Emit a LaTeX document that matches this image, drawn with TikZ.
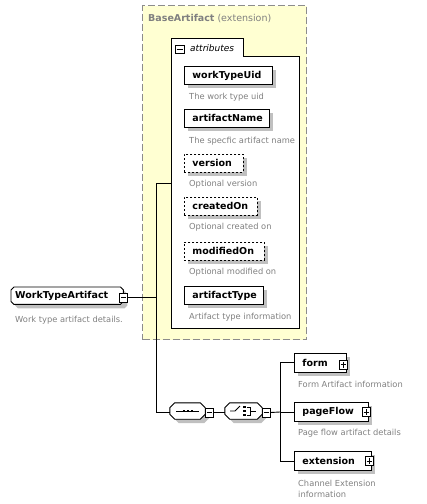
\documentclass[tikz,border=0pt]{standalone}
\usepackage{fontspec}
\setmainfont{DejaVu Sans}
\usetikzlibrary{calc,shadows}

\definecolor{yel}{HTML}{FFFFD2}
\definecolor{shd}{HTML}{C0C0C0}
\definecolor{desc}{HTML}{808080}
\definecolor{dashc}{HTML}{8C8C8C}

\tikzset{
  shd/.style={general shadow={fill=shd, shadow xshift=4pt, shadow yshift=-4pt}},
  elem/.style={draw=black, line width=0.9pt, fill=white, shd, anchor=north west,
    minimum height=18pt, inner xsep=8pt, inner ysep=0pt, align=left,
    font=\fontsize{9.5}{11}\selectfont\bfseries},
  optel/.style={elem, dash pattern=on 2pt off 2pt},
  desctext/.style={anchor=west, text=desc, font=\fontsize{8.3}{10}\selectfont, inner sep=0pt, align=left},
  pmbox/.style={draw=black, line width=0.8pt, fill=white, minimum width=8pt, minimum height=9pt, inner sep=0pt},
  minus/.style={pmbox, path picture={
      \draw[line width=0.8pt] ([xshift=1.5pt]path picture bounding box.west) -- ([xshift=-1.5pt]path picture bounding box.east);}},
  plus/.style={pmbox, path picture={
      \draw[line width=0.8pt] ([xshift=1.5pt]path picture bounding box.west) -- ([xshift=-1.5pt]path picture bounding box.east);
      \draw[line width=0.8pt] ([yshift=-1.5pt]path picture bounding box.north) -- ([yshift=1.5pt]path picture bounding box.south);}},
  octbox/.style={rectangle, inner sep=0pt},
  conn/.style={line width=0.9pt, black},
}
% octagon outline round a node: #1 name, #2 cut
\newcommand{\octpath}[2]{($(#1.north west)+(#2,0)$) -- ($(#1.north east)+(-#2,0)$) -- ($(#1.north east)+(0,#2)$)
  -- ($(#1.south east)+(0,-#2)$) -- ($(#1.south east)+(-#2,0)$) -- ($(#1.south west)+(#2,0)$)
  -- ($(#1.south west)+(0,-#2)$) -- ($(#1.north west)+(0,#2)$) -- cycle}
\newcommand{\octdraw}[2]{%
  \fill[shd, shift={(4,4)}] \octpath{#1}{#2};
  \draw[line width=0.9pt, fill=white] \octpath{#1}{#2};}

\begin{document}
\begin{tikzpicture}[x=1pt,y=-1pt]
\useasboundingbox (0,0) rectangle (427,504);

% extension base (yellow dashed)
\node[draw=dashc, fill=yel, line width=1pt, dash pattern=on 7pt off 3pt,
      minimum width=164pt, minimum height=334pt, inner sep=0pt, anchor=north west] (base) at (142,5) {};
\node[anchor=west, inner sep=0pt, text=desc, font=\fontsize{9.5}{11}\selectfont] (basetitle) at (148,19)
   {\textbf{BaseArtifact} (extension)};

% attributes box with tab
\draw[line width=0.9pt, fill=white] (171,38) -- (243,38) -- (243,56) -- (299,56) -- (299,328) -- (171,328) -- cycle;
\coordinate (attrW) at (171,183);
\node[minus, minimum width=9pt, minimum height=8pt] (attrm) at (179.5,49) {};
\node[anchor=west, inner sep=0pt, font=\fontsize{9}{11}\selectfont\itshape] (attrlbl) at (190,48) {attributes};

% attributes
\node[elem, text width=72pt] (wtu) at (184,66) {workTypeUid};
\node[desctext] (wtud) at (189,97) {The work type uid};
\node[elem, text width=69pt] (an) at (184,109) {artifactName};
\node[desctext] (and) at (189,141) {The specfic artifact name};
\node[optel, text width=43pt] (ver) at (184,154) {version};
\node[desctext] (verd) at (189,184) {Optional version};
\node[optel, text width=57pt] (co) at (184,197) {createdOn};
\node[desctext] (cod) at (189,227) {Optional created on};
\node[optel, text width=64pt] (mo) at (184,242) {modifiedOn};
\node[desctext] (mod) at (189,272) {Optional modified on};
\node[elem, text width=63pt] (at) at (184,286) {artifactType};
\node[desctext] (atd) at (189,317) {Artifact type information};

% root element
\node[octbox, anchor=north west, minimum width=112pt, minimum height=17pt] (wta) at (11,287) {};
\octdraw{wta}{3}
\node[anchor=west, inner sep=0pt, font=\fontsize{9.5}{11}\selectfont\bfseries] (wtal) at (15,295.5) {WorkTypeArtifact};
\node[minus] (wtam) at (123.5,297.5) {};
\node[desctext] (wtad) at (15,320) {Work type artifact details.};

% sequence & choice
\node[octbox, minimum width=35pt, minimum height=16pt] (seq) at (187.5,411) {};
\octdraw{seq}{5}
\node[minus] (seqm) at (209,412.5) {};
\node[octbox, minimum width=37pt, minimum height=16pt] (cho) at (243.5,411) {};
\octdraw{cho}{5}
\node[minus] (chom) at (266,412.5) {};

% sequence icon
\draw[line width=0.9pt] (176,411) -- (199,411);
\foreach \xx in {184,188,192} \fill (\xx-1.1,409.9) rectangle (\xx+1.1,412.1);
% choice icon
\draw[line width=0.9pt] (230,411) -- (235,411) -- (240,406);
\foreach \yy in {407,411,415} \fill (243.4,\yy-1.1) rectangle (245.6,\yy+1.1);
\draw[line width=0.9pt] (247,407) -- (250,407) -- (250,415) -- (247,415);
\draw[line width=0.9pt] (250,411) -- (256,411);

% children of choice
\node[elem, text width=36pt, minimum height=19pt] (form) at (294,353) {form};
\node[plus] (formp) at (343,364.5) {};
\node[desctext] (formd) at (298,384) {Form Artifact information};
\node[elem, text width=58pt, minimum height=19pt] (pf) at (294,402) {pageFlow};
\node[plus] (pfp) at (366,412) {};
\node[desctext] (pfd) at (298,433) {Page flow artifact details};
\node[elem, text width=61pt, minimum height=19pt] (ext) at (294,451) {extension};
\node[plus] (extp) at (369,461) {};
\node[desctext] (extd) at (298,488.5) {Channel Extension\\[1pt]information};

% connectors
\coordinate (j1) at (156,297.5);
\coordinate (j1t) at (156,183);
\coordinate (j1b) at (156,412);
\coordinate (j2) at (280,412);
\coordinate (j2t) at (280,362.5);
\coordinate (j2b) at (280,461);
\draw[conn] (wtam.east) -- (j1);
\draw[conn] (attrW) -- (j1t) -- (j1b) -- (seq.west |- j1b);
\draw[conn] (seqm.east) -- (cho.west |- seqm.east);
\draw[conn] (chom.east) -- (j2);
\draw[conn] (form.west |- j2t) -- (j2t) -- (j2b) -- (ext.west |- j2b);
\draw[conn] (j2) -- (pf.west |- j2);
\end{tikzpicture}
\end{document}
